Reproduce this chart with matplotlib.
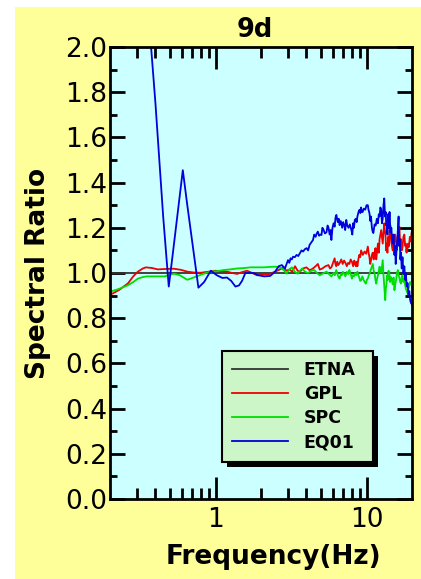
import matplotlib
matplotlib.use("Agg")
import matplotlib.pyplot as plt
from matplotlib.patches import Rectangle
from matplotlib.ticker import FixedLocator, NullFormatter, FixedFormatter, MultipleLocator, FormatStrFormatter
from matplotlib.transforms import IdentityTransform

plt.rcParams['font.family'] = ['DejaVu Sans']

title = "9d"
xlabel = "Frequency(Hz)"
ylabel = "Spectral Ratio"
series_names = ["ETNA", "GPL", "SPC", "EQ01"]

# (frequency Hz, spectral ratio) pairs
etna = [(0.2, 1.0), (20.0, 1.0)]

gpl = [(0.20, 0.903), (0.23, 0.925), (0.263, 0.954), (0.285, 0.985), (0.306, 1.006),
       (0.33, 1.02), (0.346, 1.025), (0.38, 1.022), (0.414, 1.016), (0.47, 1.018),
       (0.53, 1.019), (0.59, 1.014), (0.65, 1.006), (0.72, 1.002), (0.797, 1.001),
       (0.9, 1.006), (1.0, 1.01), (1.1, 1.008), (1.19, 1.006), (1.29, 1.0),
       (1.39, 0.996), (1.5, 1.004), (1.62, 1.01), (1.75, 1.0), (1.88, 0.99),
       (2.05, 0.993), (2.27, 0.995), (2.48, 1.006), (2.65, 1.015), (2.82, 1.025),
       (2.95, 1.01), (3.1, 1.016), (3.22, 1.005), (3.36, 1.03), (3.5, 1.01),
       (3.62, 1.006), (3.8, 1.02), (4.0, 1.025), (4.2, 1.012), (4.42, 1.02),
       (4.6, 1.03), (4.76, 1.04), (4.9, 1.015), (5.1, 1.02), (5.35, 1.03),
       (5.6, 1.035), (5.72, 1.02), (5.85, 1.025), (6.0, 1.045), (6.15, 1.065),
       (6.22, 1.04), (6.3, 1.03), (6.4, 1.05), (6.5, 1.035), (6.65, 1.045),
       (6.8, 1.06), (6.95, 1.04), (7.1, 1.055), (7.25, 1.045), (7.4, 1.03),
       (7.55, 1.045), (7.7, 1.04), (7.85, 1.06), (8.0, 1.05), (8.15, 1.03),
       (8.3, 1.055), (8.4, 1.04), (8.5, 1.03), (8.6, 1.05), (8.7, 1.03),
       (8.82, 1.06), (8.95, 1.08), (9.08, 1.07), (9.2, 1.10), (9.45, 1.08),
       (9.7, 1.095), (9.95, 1.085), (10.2, 1.117), (10.32, 1.09), (10.45, 1.07),
       (10.58, 1.04), (10.7, 1.055), (10.85, 1.08), (11.0, 1.09), (11.15, 1.06),
       (11.3, 1.09), (11.45, 1.11), (11.6, 1.06), (11.75, 1.10), (11.9, 1.13),
       (12.05, 1.09), (12.2, 1.15), (12.35, 1.17), (12.5, 1.19), (12.65, 1.16),
       (12.8, 1.13), (12.95, 1.18), (13.1, 1.22), (13.22, 1.19), (13.35, 1.17),
       (13.48, 1.10), (13.6, 1.13), (13.75, 1.09), (13.9, 1.16), (14.05, 1.12),
       (14.2, 1.19), (14.38, 1.21), (14.55, 1.14), (14.72, 1.12), (14.9, 1.10),
       (15.05, 1.15), (15.2, 1.13), (15.4, 1.17), (15.6, 1.16), (15.8, 1.10),
       (16.0, 1.12), (16.25, 1.17), (16.5, 1.205), (16.7, 1.12), (16.9, 1.15),
       (17.1, 1.10), (17.3, 1.115), (17.55, 1.16), (17.8, 1.17), (18.0, 1.12),
       (18.2, 1.13), (18.4, 1.09), (18.6, 1.10), (18.85, 1.13), (19.1, 1.115),
       (19.35, 1.16), (19.6, 1.14), (19.8, 1.17), (20.0, 1.19)]

spc = [(0.20, 0.917), (0.23, 0.93), (0.263, 0.946), (0.285, 0.96), (0.306, 0.975),
       (0.33, 0.982), (0.35, 0.985), (0.40, 0.985), (0.46, 0.985), (0.53, 0.997),
       (0.58, 0.99), (0.65, 0.97), (0.73, 0.982), (0.82, 0.995), (0.93, 1.006),
       (1.02, 1.008), (1.13, 1.013), (1.25, 1.016), (1.39, 1.02), (1.55, 1.022),
       (1.7, 1.025), (1.9, 1.025), (2.1, 1.025), (2.3, 1.027), (2.48, 1.028),
       (2.62, 1.026), (2.75, 1.02), (2.85, 1.01), (2.95, 0.997), (3.07, 1.015),
       (3.2, 1.025), (3.35, 1.005), (3.5, 0.997), (3.62, 1.01), (3.75, 1.02),
       (3.92, 1.005), (4.1, 1.0), (4.3, 1.01), (4.5, 1.013), (4.7, 1.0),
       (4.9, 0.99), (5.15, 0.998), (5.43, 1.006), (5.65, 0.995), (5.85, 0.985),
       (6.05, 1.0), (6.17, 0.99), (6.3, 1.013), (6.38, 1.0), (6.45, 0.99),
       (6.55, 0.98), (6.63, 0.975), (6.75, 0.995), (6.85, 0.99), (6.97, 1.005),
       (7.1, 0.997), (7.25, 0.985), (7.4, 1.005), (7.55, 0.995), (7.7, 1.013),
       (7.8, 1.0), (7.9, 0.99), (8.0, 0.975), (8.1, 0.99), (8.25, 0.985),
       (8.4, 1.0), (8.55, 0.99), (8.7, 1.006), (8.82, 0.99), (8.95, 0.98),
       (9.08, 0.965), (9.2, 0.968), (9.38, 0.985), (9.55, 0.97), (9.72, 0.96),
       (9.9, 0.953), (10.05, 0.97), (10.2, 0.975), (10.35, 0.99), (10.5, 0.997),
       (10.62, 1.01), (10.75, 1.02), (10.88, 1.03), (11.0, 1.04), (11.15, 1.01),
       (11.3, 1.0), (11.45, 0.97), (11.6, 0.953), (11.75, 0.975), (11.9, 0.99),
       (12.05, 1.01), (12.2, 1.028), (12.35, 1.005), (12.5, 1.0), (12.65, 1.03),
       (12.8, 1.057), (12.92, 1.0), (13.05, 0.96), (13.18, 0.92), (13.3, 0.88),
       (13.42, 0.93), (13.55, 0.95), (13.68, 0.99), (13.8, 0.968), (13.98, 1.01),
       (14.15, 1.0), (14.32, 0.96), (14.5, 0.982), (14.7, 0.97), (14.9, 0.95),
       (15.1, 0.98), (15.3, 0.924), (15.5, 0.95), (15.7, 0.97), (15.9, 1.0),
       (16.1, 1.013), (16.3, 0.99), (16.5, 0.98), (16.7, 0.96), (16.9, 0.953),
       (17.1, 0.98), (17.3, 0.99), (17.55, 0.96), (17.8, 0.975), (18.0, 0.95),
       (18.2, 0.93), (18.45, 0.92), (18.7, 0.91), (18.95, 0.93), (19.2, 0.945),
       (19.45, 0.96), (19.7, 0.953), (20.0, 0.94)]

eq01 = [(0.20, 4.5), (0.25, 3.6), (0.30, 2.8), (0.35, 2.25), (0.40, 1.75),
        (0.45, 1.25), (0.49, 0.94), (0.52, 1.08), (0.56, 1.26), (0.607, 1.455),
        (0.65, 1.30), (0.70, 1.14), (0.77, 0.935), (0.84, 0.96), (0.93, 1.01),
        (1.02, 0.99), (1.11, 0.978), (1.19, 0.98), (1.27, 0.965), (1.354, 0.94),
        (1.43, 0.945), (1.50, 0.966), (1.575, 1.0), (1.68, 1.0), (1.78, 1.0),
        (1.92, 0.99), (2.1, 0.985), (2.30, 0.987), (2.48, 1.006), (2.62, 1.03),
        (2.75, 1.035), (2.88, 1.02), (3.02, 1.057), (3.08, 1.045), (3.14, 1.065),
        (3.2, 1.06), (3.26, 1.072), (3.35, 1.07), (3.44, 1.08), (3.53, 1.075),
        (3.62, 1.088), (3.71, 1.10), (3.80, 1.095), (3.9, 1.105), (4.01, 1.11),
        (4.1, 1.10), (4.2, 1.125), (4.3, 1.135), (4.42, 1.146), (4.5, 1.17),
        (4.6, 1.16), (4.68, 1.175), (4.76, 1.183), (4.85, 1.165), (4.93, 1.17),
        (5.03, 1.168), (5.1, 1.20), (5.2, 1.19), (5.3, 1.175), (5.43, 1.18),
        (5.52, 1.21), (5.6, 1.20), (5.7, 1.17), (5.78, 1.19), (5.85, 1.146),
        (5.95, 1.20), (6.05, 1.22), (6.15, 1.205), (6.23, 1.245), (6.31, 1.257),
        (6.45, 1.225), (6.55, 1.24), (6.63, 1.212), (6.75, 1.23), (6.9, 1.20),
        (7.0, 1.225), (7.1, 1.215), (7.22, 1.19), (7.34, 1.235), (7.45, 1.21),
        (7.6, 1.20), (7.75, 1.215), (7.94, 1.19), (8.05, 1.17), (8.15, 1.22),
        (8.25, 1.20), (8.36, 1.235), (8.5, 1.24), (8.6, 1.225), (8.7, 1.25),
        (8.85, 1.27), (8.99, 1.28), (9.1, 1.265), (9.2, 1.29), (9.32, 1.27),
        (9.42, 1.27), (9.6, 1.285), (9.8, 1.28), (10.0, 1.30), (10.2, 1.30),
        (10.3, 1.28), (10.45, 1.265), (10.6, 1.23), (10.7, 1.25), (10.85, 1.20),
        (11.0, 1.18), (11.1, 1.177), (11.3, 1.215), (11.5, 1.21), (11.7, 1.24),
        (11.9, 1.22), (12.05, 1.26), (12.2, 1.25), (12.35, 1.29), (12.5, 1.28),
        (12.65, 1.22), (12.8, 1.24), (12.95, 1.30), (13.1, 1.33), (13.25, 1.25),
        (13.4, 1.27), (13.5, 1.21), (13.6, 1.22), (13.75, 1.17), (13.9, 1.26),
        (14.05, 1.20), (14.2, 1.27), (14.4, 1.18), (14.6, 1.20), (14.75, 1.15),
        (14.9, 1.13), (15.1, 1.17), (15.3, 1.08), (15.45, 1.12), (15.6, 1.04),
        (15.8, 1.10), (16.0, 1.15), (16.15, 1.20), (16.3, 1.25), (16.45, 1.12),
        (16.6, 1.15), (16.75, 1.06), (16.9, 1.09), (17.1, 1.02), (17.3, 1.07),
        (17.55, 1.00), (17.8, 1.03), (18.0, 0.97), (18.2, 1.00), (18.45, 0.94),
        (18.7, 0.955), (18.95, 0.90), (19.2, 0.92), (19.45, 0.88), (19.7, 0.867),
        (20.0, 0.86)]

x_major = [1, 10]
x_major_labels = ["1", "10"]
x_minor = [0.3, 0.4, 0.5, 0.6, 0.7, 0.8, 0.9, 2, 3, 4, 5, 6, 7, 8, 9]

W, H = 421, 579
fig = plt.figure(figsize=(W / 100, H / 100), dpi=100, facecolor="white")
fig.add_artist(Rectangle((15 / W, 0), 1 - 15 / W, (H - 7) / H, transform=fig.transFigure,
                         facecolor="#FFFF99", edgecolor="none", zorder=-10))

ax = fig.add_axes([110 / W, (H - 499) / H, 302 / W, 452 / H])
ax.set_facecolor("#CCFFFF")

lw = 1.3
styles = [(etna, "#333333"), (gpl, "#EE0000"), (spc, "#00DD00"), (eq01, "#0000DD")]
for name, (data, col) in zip(series_names, styles):
    fx = [p[0] for p in data]
    fy = [p[1] for p in data]
    ax.plot(fx, fy, color=col, lw=lw, label=name)

ax.set_xscale("log")
ax.set_xlim(0.2, 20)
ax.set_ylim(0.0, 2.0)
ax.xaxis.set_major_locator(FixedLocator(x_major))
ax.xaxis.set_major_formatter(FixedFormatter(x_major_labels))
ax.xaxis.set_minor_locator(FixedLocator(x_minor))
ax.xaxis.set_minor_formatter(NullFormatter())
ax.yaxis.set_major_locator(MultipleLocator(0.2))
ax.yaxis.set_minor_locator(MultipleLocator(0.1))
ax.yaxis.set_major_formatter(FormatStrFormatter("%.1f"))

for s in ax.spines.values():
    s.set_linewidth(2)
ax.tick_params(axis="x", which="major", direction="in", length=16, width=2,
               top=True, bottom=True, labelsize=19, pad=6)
ax.tick_params(axis="x", which="minor", direction="in", length=8, width=2, top=True, bottom=True)
ax.tick_params(axis="y", which="major", direction="in", length=11, width=2,
               left=True, right=True, labelsize=19, pad=2)
ax.tick_params(axis="y", which="minor", direction="in", length=5, width=2, left=True, right=True)

ax.set_title(title, fontsize=18.5, fontweight="bold", pad=7, x=0.48)
ax.set_xlabel(xlabel, fontsize=19, fontweight="bold", labelpad=8)
ax.xaxis.label.set_x(0.54)
ax.set_ylabel(ylabel, fontsize=19, fontweight="bold", labelpad=10)

leg = ax.legend(loc="lower left", bbox_to_anchor=(0.371, 0.082, 0.5, 0.25), mode="expand",
                prop={"weight": "bold", "size": 12.5}, frameon=True, fancybox=False,
                handlelength=3.2, handletextpad=0.9, borderpad=0.6, labelspacing=0.35,
                borderaxespad=0)
leg.get_frame().set_facecolor("#CCF5C8")
leg.get_frame().set_edgecolor("black")
leg.get_frame().set_linewidth(1.5)
leg.get_frame().set_alpha(1)
leg.set_zorder(6)

fig.canvas.draw()
bb = leg.get_window_extent()
shadow = Rectangle((bb.x0 + 5, bb.y0 - 5), bb.width, bb.height, transform=IdentityTransform(),
                   facecolor="black", edgecolor="none", zorder=5.5)
ax.add_patch(shadow)

fig.savefig("out.png", dpi=100, facecolor=fig.get_facecolor())
